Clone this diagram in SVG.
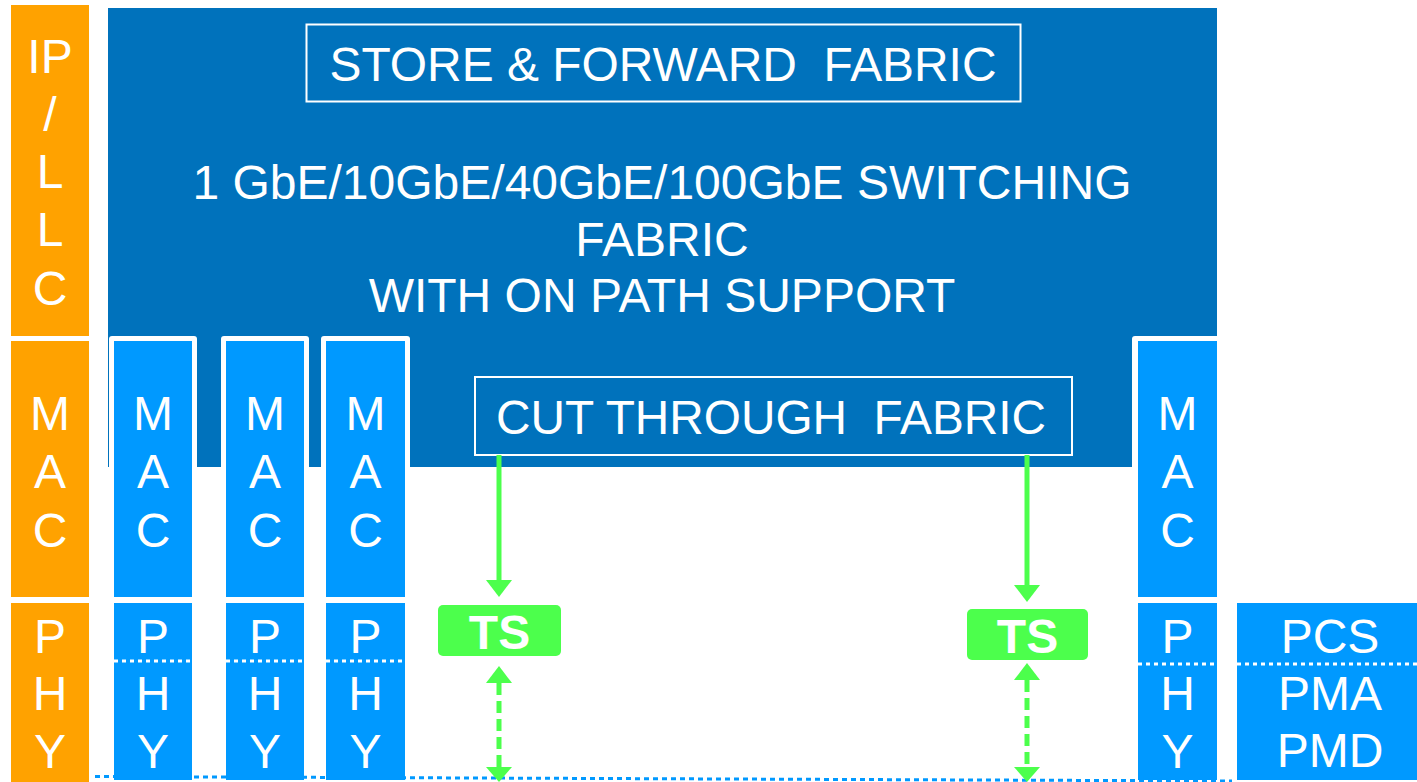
<svg xmlns="http://www.w3.org/2000/svg" width="1417" height="782" viewBox="0 0 1417 782">
<style>
text{font-family:"Liberation Sans",Arial,sans-serif;fill:#fff;font-size:48px;text-anchor:middle}
.orange{fill:#FFA200}
.dark{fill:#0072BC}
.light{fill:#0099FF}
.frame{fill:none;stroke:#fff;stroke-width:2}
.dot{stroke:#fff;stroke-width:3;stroke-dasharray:4 4;fill:none}
.green{fill:#4CFF4C}
.gline{stroke:#4CFF4C;stroke-width:5;fill:none}
.gdash{stroke:#4CFF4C;stroke-width:5;fill:none;stroke-dasharray:12 6}
.ts{font-weight:bold}
</style>
<rect width="1417" height="782" fill="#fff"/>
<g id="layer-labels">
<g id="ip-llc"><rect class="orange" x="11" y="5" width="78" height="331"/>
<text x="50" y="73">IP</text><text x="50" y="131">/</text><text x="50" y="188">L</text><text x="50" y="246">L</text><text x="50" y="305">C</text></g>
<g id="mac-label"><rect class="orange" x="11" y="341" width="78" height="256"/>
<text x="50" y="430">M</text><text x="50" y="488">A</text><text x="50" y="547">C</text></g>
<g id="phy-label"><rect class="orange" x="11" y="603" width="78" height="179"/>
<text x="50" y="653">P</text><text x="50" y="710">H</text><text x="50" y="768">Y</text></g>
</g>
<g id="switching-fabric">
<rect class="dark" x="108" y="8" width="1109" height="459"/>
<text x="662" y="199">1 GbE/10GbE/40GbE/100GbE SWITCHING</text>
<text x="662" y="256">FABRIC</text>
<text x="662" y="312">WITH ON PATH SUPPORT</text>
</g>
<g id="store-forward">
<rect class="frame" x="306.5" y="24.5" width="714" height="77"/>
<text x="663" y="81" xml:space="preserve" textLength="667" lengthAdjust="spacingAndGlyphs">STORE &amp; FORWARD  FABRIC</text>
</g>
<g id="cut-through">
<rect class="frame" x="475" y="377" width="597" height="78"/>
<text x="771" y="434" xml:space="preserve" textLength="550" lengthAdjust="spacingAndGlyphs">CUT THROUGH  FABRIC</text>
</g>
<g id="bottom-line"><line x1="95" y1="776.5" x2="1232" y2="781" stroke="#0099FF" stroke-width="3" stroke-dasharray="5 4"/></g>
<g id="mac1"><rect x="109" y="336" width="88" height="261" rx="3" fill="#fff"/><rect class="light" x="114" y="341" width="78" height="256"/>
<text x="153" y="430">M</text><text x="153" y="488">A</text><text x="153" y="547">C</text></g>
<g id="mac2"><rect x="221" y="336" width="88" height="261" rx="3" fill="#fff"/><rect class="light" x="226" y="341" width="78" height="256"/>
<text x="265" y="430">M</text><text x="265" y="488">A</text><text x="265" y="547">C</text></g>
<g id="mac3"><rect x="321" y="336" width="89" height="261" rx="3" fill="#fff"/><rect class="light" x="326" y="341" width="79" height="256"/>
<text x="365.5" y="430">M</text><text x="365.5" y="488">A</text><text x="365.5" y="547">C</text></g>
<g id="mac4"><rect x="1132" y="336" width="90" height="261" rx="3" fill="#fff"/><rect class="light" x="1138" y="341" width="79" height="256"/>
<text x="1177.5" y="430">M</text><text x="1177.5" y="488">A</text><text x="1177.5" y="547">C</text></g>
<g id="phy1"><rect class="light" x="114" y="603" width="78" height="177"/><line class="dot" x1="114" y1="661" x2="192" y2="661"/>
<text x="153" y="653">P</text><text x="153" y="710">H</text><text x="153" y="768">Y</text></g>
<g id="phy2"><rect class="light" x="226" y="603" width="78" height="177"/><line class="dot" x1="226" y1="661" x2="304" y2="661"/>
<text x="265" y="653">P</text><text x="265" y="710">H</text><text x="265" y="768">Y</text></g>
<g id="phy3"><rect class="light" x="326" y="603" width="79" height="177"/><line class="dot" x1="326" y1="661" x2="405" y2="661"/>
<text x="365.5" y="653">P</text><text x="365.5" y="710">H</text><text x="365.5" y="768">Y</text></g>
<g id="phy4"><rect class="light" x="1138" y="603" width="79" height="177"/><line class="dot" x1="1138" y1="664" x2="1217" y2="664"/>
<text x="1177.5" y="653">P</text><text x="1177.5" y="710">H</text><text x="1177.5" y="768">Y</text></g>
<g id="pcs"><rect class="light" x="1237" y="603" width="180" height="177"/><line class="dot" x1="1237" y1="664" x2="1417" y2="664"/>
<text x="1330" y="653">PCS</text><text x="1330" y="710">PMA</text><text x="1330" y="767">PMD</text></g>
<g id="ts1"><rect class="green" x="438" y="605" width="123" height="51" rx="5"/><text class="ts" x="499.5" y="649">TS</text></g>
<g id="ts2"><rect class="green" x="967" y="609" width="121" height="51" rx="5"/><text class="ts" x="1027.5" y="653">TS</text></g>
<g id="connectors">
<line class="gline" x1="499" y1="455" x2="499" y2="582"/><polygon class="green" points="486,580 512,580 499,597"/>
<line class="gline" x1="1027" y1="455" x2="1027" y2="587"/><polygon class="green" points="1014,585 1040,585 1027,602"/>
<polygon class="green" points="486,683 512,683 499,666"/><line class="gdash" x1="499" y1="683" x2="499" y2="768"/><polygon class="green" points="486,767 512,767 499,782"/>
<polygon class="green" points="1014,680 1040,680 1027,663"/><line class="gdash" x1="1027" y1="680" x2="1027" y2="768"/><polygon class="green" points="1014,767 1040,767 1027,782"/>
</g>
</svg>
